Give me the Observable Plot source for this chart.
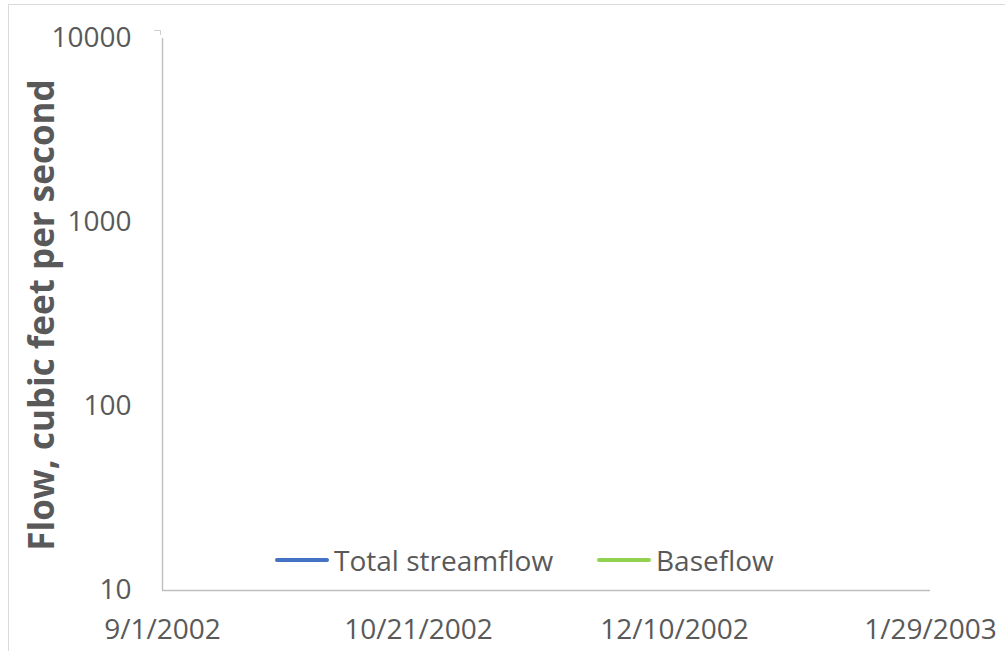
<!DOCTYPE html>
<html>
<head>
<meta charset="utf-8">
<script src="https://cdn.jsdelivr.net/npm/d3@7"></script>
<script src="https://cdn.jsdelivr.net/npm/@observablehq/plot@0.6"></script>
<style>
  html, body { margin: 0; padding: 0; background: #fff; }
  #wrap { position: relative; width: 1005px; height: 651px; overflow: hidden; background: #fff; font-family: "Open Sans", sans-serif; color: #595959; }
  #frame { position: absolute; left: 8px; top: 4px; width: 1100px; height: 800px; border-top: 1.5px solid #d9d9d9; border-left: 1.5px solid #d9d9d9; pointer-events: none; }
  #hook { position: absolute; left: 154px; top: 30px; width: 6px; height: 4px; border-top: 1.5px solid #cfcfcf; border-right: 1.5px solid #cfcfcf; }
  #ytitle { position: absolute; left: 40px; top: 315px; transform: translate(-50%, -50%) rotate(-90deg); font-weight: bold; font-size: 35px; white-space: nowrap; color: #595959; }
  .leg { position: absolute; top: 560px; transform: translateY(-50%); display: flex; align-items: center; font-size: 28px; white-space: nowrap; color: #595959; }
  .leg .sw { width: 54px; height: 3.5px; margin-right: 5px; border-radius: 2px; }
  #chart { position: absolute; left: 0; top: 0; }
</style>
</head>
<body>
<div id="wrap">
  <div id="chart"></div>
  <div id="frame"></div>
  <div id="hook"></div>
  <div id="ytitle"></div>
  <div id="legend"></div>
</div>
<script>
// ---- data ----
const seriesNames = ["Total streamflow", "Baseflow"];
const seriesColors = ["#4472C4", "#92D050"];
// daily flow values (none are drawn in the reference chart)
const totalStreamflow = [];
const baseflow = [];
const xTickLabels = ["9/1/2002", "10/21/2002", "12/10/2002", "1/29/2003"];
const yTickValues = [10, 100, 1000, 10000];
const yTitle = "Flow, cubic feet per second";

const parseDate = d3.utcParse("%m/%d/%Y");
const xTicks = xTickLabels.map(parseDate);
const rows = [
  ...totalStreamflow.map(d => ({date: parseDate(d.date), value: d.value, series: seriesNames[0]})),
  ...baseflow.map(d => ({date: parseDate(d.date), value: d.value, series: seriesNames[1]}))
];

const chart = Plot.plot({
  width: 1005,
  height: 651,
  marginLeft: 162,
  marginRight: 75,
  marginTop: 38,
  marginBottom: 61,
  style: { fontFamily: "Open Sans, sans-serif", fontSize: "28px", color: "#595959", background: "transparent", overflow: "visible" },
  x: { type: "utc", domain: [xTicks[0], xTicks[xTicks.length - 1]] },
  y: { type: "log", domain: [yTickValues[0], yTickValues[yTickValues.length - 1]] },
  color: { domain: seriesNames, range: seriesColors },
  marks: [
    Plot.axisX({ ticks: xTicks, tickFormat: d3.utcFormat("%-m/%-d/%Y"), tickSize: 0, tickPadding: 29, label: null, fill: "#595959" }),
    Plot.axisY({ ticks: yTickValues, tickFormat: d => String(d), tickSize: 0, tickPadding: 31, label: null, fill: "#595959" }),
    Plot.ruleX([xTicks[0]], { stroke: "#bfbfbf", strokeWidth: 1.4 }),
    Plot.ruleY([yTickValues[0]], { stroke: "#bfbfbf", strokeWidth: 1.4 }),
    Plot.lineY(rows, { x: "date", y: "value", stroke: "series", strokeWidth: 2.5 })
  ]
});
document.getElementById("chart").appendChild(chart);

document.getElementById("ytitle").textContent = yTitle;

const legend = document.getElementById("legend");
const legLeft = [275, 597];
seriesNames.forEach((name, i) => {
  const item = document.createElement("div");
  item.className = "leg";
  item.style.left = legLeft[i] + "px";
  const sw = document.createElement("div");
  sw.className = "sw";
  sw.style.background = seriesColors[i];
  const t = document.createElement("span");
  t.textContent = name;
  item.appendChild(sw);
  item.appendChild(t);
  legend.appendChild(item);
});
</script>
</body>
</html>
